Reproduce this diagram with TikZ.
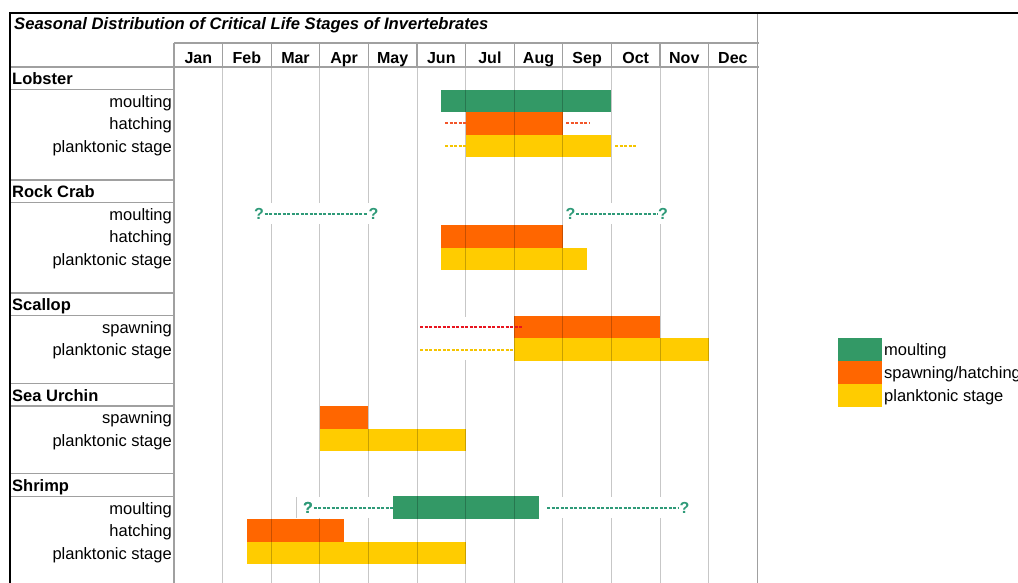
\documentclass[tikz,border=0pt]{standalone}
\usepackage{fontspec}
\setmainfont{Liberation Sans}
\definecolor{mgreen}{HTML}{339966}
\definecolor{morange}{HTML}{FF6600}
\definecolor{myellow}{HTML}{FFCC00}
\definecolor{qgreen}{HTML}{2E9A78}
\definecolor{dred}{HTML}{E8141E}
\definecolor{dorange}{HTML}{F2552A}
\definecolor{dyellow}{HTML}{F5C400}
\definecolor{tline}{HTML}{A0A0A0}
\begin{document}
\begin{tikzpicture}[x=1pt,y=-1pt,
  txt/.style={inner sep=0pt, font=\fontsize{16.5}{18}\selectfont},
  sub/.style={txt, anchor=base east},
  spec/.style={txt, anchor=base west, font=\fontsize{16.5}{18}\selectfont\bfseries},
  mon/.style={txt, anchor=base, font=\fontsize{16}{18}\selectfont\bfseries},
  legtxt/.style={txt, anchor=base west},
  qmark/.style={inner sep=0.6pt, text=qgreen, font=\fontsize{16}{18}\selectfont\bfseries},
  gbar/.style={fill=mgreen, draw=none},
  obar/.style={fill=morange, draw=none},
  ybar/.style={fill=myellow, draw=none},
  dsh/.style={dash pattern=on 3.2pt off 1.3pt, line width=2pt},
  gdash/.style={dsh, draw=qgreen},
  rdash/.style={dsh, draw=dred},
  odash/.style={dsh, draw=dorange},
  ydash/.style={dsh, draw=dyellow},
  grid/.style={black, opacity=0.22, line width=1pt},
  tab/.style={tline, line width=1.1pt},
  cover/.style={white, line width=21pt}
]
\useasboundingbox (0,0) rectangle (1018,583);
\fill[white] (0,0) rectangle (1018,583);

% ---------- bars ----------
% Lobster
\fill[gbar] (441.3,89.6) rectangle (611.4,112.2);
\fill[obar] (465.6,112.2) rectangle (562.8,134.8);
\fill[ybar] (465.6,134.8) rectangle (611.4,157.4);
% Rock Crab
\fill[obar] (441.3,225.2) rectangle (562.8,247.8);
\fill[ybar] (441.3,247.8) rectangle (587.1,270.4);
% Scallop
\fill[obar] (514.2,315.6) rectangle (660,338.2);
\fill[ybar] (514.2,338.2) rectangle (708.6,360.8);
% Sea Urchin
\fill[obar] (319.8,406) rectangle (368.4,428.6);
\fill[ybar] (319.8,428.6) rectangle (465.6,451.2);
% Shrimp
\fill[gbar] (393,496.4) rectangle (539,519);
\fill[obar] (246.9,519) rectangle (344.1,541.6);
\fill[ybar] (246.9,541.6) rectangle (465.6,564.2);

% ---------- grid ----------
\foreach \x in {222.6,271.2,319.8,368.4,417,465.6,514.2,562.8,611.4,660,708.6}
  \draw[grid] (\x,67) -- (\x,583);
\foreach \x in {222.6,271.2,319.8,368.4,417,465.6,514.2,562.8,611.4,660,708.6}
  \draw[tab] (\x,43) -- (\x,67);
\draw[tab] (174,43) -- (174,583);
\draw[tab] (757.2,13) -- (757.2,583);
\draw[tab] (174,43) -- (759,43);
\draw[tab] (10,67) -- (759,67);
\foreach \y in {89.6,180,202.6,293,315.6,383.4,406,473.8,496.4}
  \draw[tab] (10,\y) -- (174,\y);

% ---------- frame ----------
\draw[black, line width=2.6pt] (10,583) -- (10,13) -- (1018,13);

% ---------- texts ----------
\node[txt, anchor=base west, font=\fontsize{16.6}{18}\selectfont\bfseries\itshape] (title) at (14,29.6)
  {Seasonal Distribution of Critical Life Stages of Invertebrates};
\foreach \m [count=\i from 0] in {Jan,Feb,Mar,Apr,May,Jun,Jul,Aug,Sep,Oct,Nov,Dec}
  \node[mon] (m\i) at ({174+48.6*\i+24.3},63.2) {\m};

\node[spec] (lob) at (12,85) {Lobster};
\node[sub] (lob1) at (172,107.2) {moulting};
\node[sub] (lob2) at (172,129.8) {hatching};
\node[sub] (lob3) at (172,152.4) {planktonic stage};

\node[spec] (rc) at (12,197.6) {Rock Crab};
\node[sub] (rc1) at (172,220.2) {moulting};
\node[sub] (rc2) at (172,242.8) {hatching};
\node[sub] (rc3) at (172,265.4) {planktonic stage};

\node[spec] (sc) at (12,310.6) {Scallop};
\node[sub] (sc1) at (172,333.2) {spawning};
\node[sub] (sc2) at (172,355.8) {planktonic stage};

\node[spec] (su) at (12,401) {Sea Urchin};
\node[sub] (su1) at (172,423.6) {spawning};
\node[sub] (su2) at (172,446.2) {planktonic stage};

\node[spec] (sh) at (12,491.4) {Shrimp};
\node[sub] (sh1) at (172,514) {moulting};
\node[sub] (sh2) at (172,536.6) {hatching};
\node[sub] (sh3) at (172,559.2) {planktonic stage};

% ---------- dashed uncertain ranges ----------
% Lobster
\coordinate (la1) at (445,123.5); \coordinate (la2) at (465.6,123.5);
\coordinate (la3) at (566,123.5); \coordinate (la4) at (589,123.5);
\coordinate (lb1) at (445,146.1); \coordinate (lb2) at (465.6,146.1);
\coordinate (lb3) at (615,146.1); \coordinate (lb4) at (637,146.1);
\draw[odash] (la1) -- (la2); \draw[odash] (la3) -- (la4);
\draw[ydash] (lb1) -- (lb2); \draw[ydash] (lb3) -- (lb4);

% Rock Crab moulting
\node[qmark] (q1) at (259,213.9) {?};
\node[qmark] (q2) at (373.5,213.9) {?};
\node[qmark] (q3) at (570.5,213.9) {?};
\node[qmark] (q4) at (663,213.9) {?};
\draw[cover] (q1.west) -- (q2.east);
\draw[cover] (q3.west) -- (q4.east);
\node[qmark] at (q1) {?}; \node[qmark] at (q2) {?};
\node[qmark] at (q3) {?}; \node[qmark] at (q4) {?};
\draw[gdash] (q1.east) -- (q2.west);
\draw[gdash] (q3.east) -- (q4.west);

% Scallop
\coordinate (sa1) at (420,326.9); \coordinate (sa2) at (523,326.9);
\coordinate (sb1) at (420,349.5); \coordinate (sb2) at (514.2,349.5);
\fill[white] (418,316.6) rectangle (513.4,360);
\draw[rdash] (sa1) -- (sa2);
\draw[ydash] (sb1) -- (sb2);

% Shrimp moulting
\node[qmark] (q5) at (308,507.7) {?};
\node[qmark] (q6) at (684.5,507.7) {?};
\coordinate (sm1) at (393,507.7);
\coordinate (sm2) at (547,507.7);
\draw[cover] (q5.east) -- (sm1);
\draw[cover] (sm2) -- (q6.east);
\draw[grid] (296,497) -- (296,518);
\node[qmark] at (q5) {?}; \node[qmark] at (q6) {?};
\draw[gdash] (q5.east) -- (sm1);
\draw[gdash] (sm2) -- (q6.west);

% ---------- legend ----------
\fill[gbar] (838,338) rectangle (882,361);
\fill[obar] (838,361) rectangle (882,384);
\fill[ybar] (838,384) rectangle (882,407);
\node[legtxt] (lg1) at (884,355.8) {moulting};
\node[legtxt] (lg2) at (884,378.8) {spawning/hatching};
\node[legtxt] (lg3) at (884,401.8) {planktonic stage};
\end{tikzpicture}
\end{document}
